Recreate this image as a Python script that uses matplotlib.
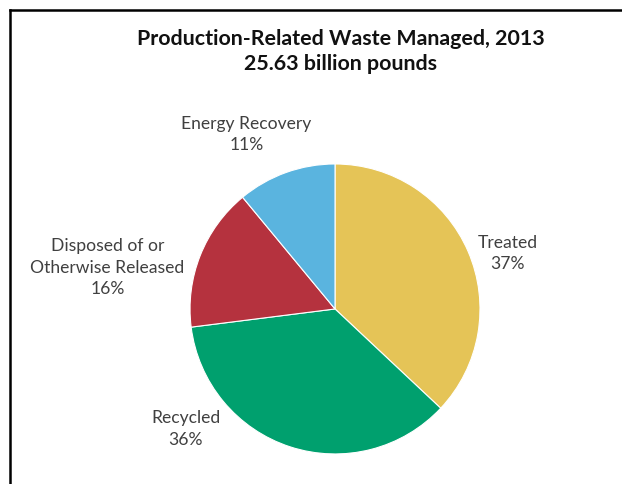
import matplotlib
matplotlib.use('Agg')
import matplotlib.pyplot as plt
from matplotlib.lines import Line2D

plt.rcParams['font.family'] = ['Lato', 'DejaVu Sans']

# data
categories = ['Treated', 'Recycled', 'Disposed of or\nOtherwise Released', 'Energy Recovery']
shares = [37, 36, 16, 11]
colors = ['#E5C457', '#00A06E', '#B5323E', '#5AB4DF']
# label positions in data units (pie radius = 1)
label_pos = [(1.19, 0.39), (-1.03, -0.82), (-1.57, 0.29), (-0.61, 1.21)]

fig = plt.figure(figsize=(6.22, 4.85), dpi=100)
ax = fig.add_axes([0.3055, 0.0619, 0.4662, 0.598])

wedges, _ = ax.pie(shares, colors=colors, startangle=90, counterclock=False,
                   radius=1, wedgeprops=dict(edgecolor='white', linewidth=0.8))
ax.set_xlim(-1, 1)
ax.set_ylim(-1, 1)
ax.set_aspect('equal')

for cat, val, (x, y) in zip(categories, shares, label_pos):
    ax.text(x, y, '%s\n%d%%' % (cat, val), ha='center', va='center',
            fontsize=12.6, color='#404040', linespacing=1.42, clip_on=False)

fig.text(0.548, 0.894, 'Production-Related Waste Managed, 2013\n25.63 billion pounds',
         ha='center', va='center', fontsize=15.4, fontweight='bold',
         color='#111111', linespacing=1.33)

# frame: top and left only
fig.add_artist(Line2D([10/622, 10/622], [0, 1 - 11/485], color='black', lw=1.8))
fig.add_artist(Line2D([10/622, 1], [1 - 11/485, 1 - 11/485], color='black', lw=1.8))

fig.savefig('out.png', dpi=100)
